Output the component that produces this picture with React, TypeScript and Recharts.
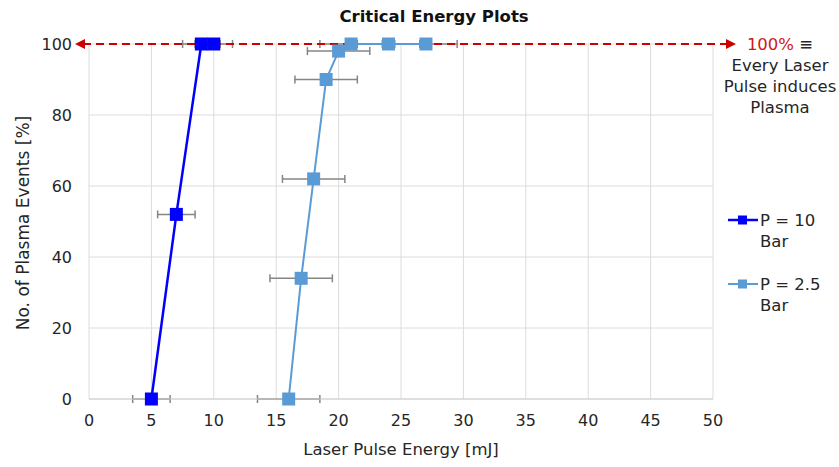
import { ScatterChart, Scatter, XAxis, YAxis, CartesianGrid, ErrorBar, ReferenceLine } from "recharts"

// P = 10 bar
const energy10 = [5, 7, 9, 10]
const events10 = [0, 52, 100, 100]
const err10 = [1.5, 1.5, 1.5, 1.5]

// P = 2.5 bar
const energy25 = [16, 17, 18, 19, 20, 21, 24, 27]
const events25 = [0, 34, 62, 90, 98, 100, 100, 100]
const err25 = [2.5, 2.5, 2.5, 2.5, 2.5, 2.5, 2.5, 2.5]

const xTicks = [0, 5, 10, 15, 20, 25, 30, 35, 40, 45, 50]
const yTicks = [0, 20, 40, 60, 80, 100]

const font = "'DejaVu Sans', sans-serif"
const textColor = "#262626"

const series = [
  {
    key: "p10",
    label: ["P = 10", "Bar"],
    color: "#0000ff",
    lineWidth: 2.5,
    data: energy10.map((x, i) => ({ x, y: events10[i], err: err10[i] })),
  },
  {
    key: "p25",
    label: ["P = 2.5", "Bar"],
    color: "#5b9bd5",
    lineWidth: 2,
    data: energy25.map((x, i) => ({ x, y: events25[i], err: err25[i] })),
  },
]

const squareShape = (color: string) => (p: any) =>
  <rect x={p.cx - 6.5} y={p.cy - 6.5} width={13} height={13} fill={color} />

// dashed 100% line with arrow heads on both ends, running a bit past the plot
const ArrowLine = (p: any) => {
  const y = p.y1
  const left = p.x1 - 14
  const right = p.x2 + 23
  const red = "#cc0000"
  return (
    <g>
      <line x1={left + 8} y1={y} x2={right - 8} y2={y} stroke={red} strokeWidth={2} strokeDasharray="8 5" />
      <polygon points={`${left},${y} ${left + 10},${y - 5} ${left + 10},${y + 5}`} fill={red} />
      <polygon points={`${right},${y} ${right - 10},${y - 5} ${right - 10},${y + 5}`} fill={red} />
    </g>
  )
}

const LegendBox = () => (
  <div style={{ position: "absolute", left: 728, top: 210, fontSize: 16.5, color: textColor }}>
    {series.map((s) => (
      <div key={s.key} style={{ display: "flex", alignItems: "flex-start", marginBottom: 22 }}>
        <svg width={30} height={20}>
          <line x1={0} y1={10} x2={30} y2={10} stroke={s.color} strokeWidth={s.lineWidth} />
          <rect x={10} y={5.5} width={9} height={9} fill={s.color} />
        </svg>
        <div style={{ lineHeight: "21px", marginLeft: 2 }}>
          {s.label.map((l) => <div key={l}>{l}</div>)}
        </div>
      </div>
    ))}
  </div>
)

export default function App() {
  return (
    <div style={{ position: "absolute", left: 0, top: 0, width: 839, height: 467, background: "#fff", fontFamily: font }}>
      <div style={{ position: "absolute", left: 334, top: 7, width: 200, textAlign: "center", fontWeight: "bold", fontSize: 16.5, color: "#111" }}>
        Critical Energy Plots
      </div>
      <ScatterChart width={839} height={467} margin={{ top: 44, right: 126, left: 0, bottom: 0 }}>
        <CartesianGrid stroke="#dcdcdc" strokeWidth={1} />
        <XAxis
          type="number"
          dataKey="x"
          domain={[0, 50]}
          ticks={xTicks}
          height={68}
          tick={{ fontSize: 16, fill: textColor, fontFamily: font }}
          tickLine={false}
          tickMargin={10}
          axisLine={{ stroke: "#d0d0d0" }}
        />
        <YAxis
          type="number"
          dataKey="y"
          domain={[0, 100]}
          ticks={yTicks}
          width={89}
          tick={{ fontSize: 16, fill: textColor, fontFamily: font }}
          tickLine={false}
          tickMargin={11}
          axisLine={false}
        />
        {series.map((s) => (
          <Scatter
            key={s.key}
            name={s.label.join(" ")}
            data={s.data}
            line={{ stroke: s.color, strokeWidth: s.lineWidth }}
            lineJointType="linear"
            shape={squareShape(s.color)}
            fill={s.color}
            isAnimationActive={false}
          >
            <ErrorBar dataKey="err" direction="x" width={4} stroke="#858585" strokeWidth={1.5} />
          </Scatter>
        ))}
        <ReferenceLine y={100} shape={ArrowLine} />
      </ScatterChart>
      <LegendBox />
      <div style={{ position: "absolute", left: 720, top: 34, width: 120, textAlign: "center", fontSize: 16.5, lineHeight: "21px", color: textColor }}>
        <div><span style={{ color: "#d01818" }}>100%</span> ≡</div>
        <div>Every Laser</div>
        <div>Pulse induces</div>
        <div>Plasma</div>
      </div>
      <div style={{ position: "absolute", left: 251, top: 440, width: 300, textAlign: "center", fontSize: 16.5, color: textColor }}>
        Laser Pulse Energy [mJ]
      </div>
      <div
        style={{
          position: "absolute",
          left: 23,
          top: 223,
          width: 300,
          textAlign: "center",
          fontSize: 17,
          color: textColor,
          transform: "translate(-50%, -50%) rotate(-90deg)",
          lineHeight: "20px",
        }}
      >
        No. of Plasma Events [%]
      </div>
    </div>
  )
}
